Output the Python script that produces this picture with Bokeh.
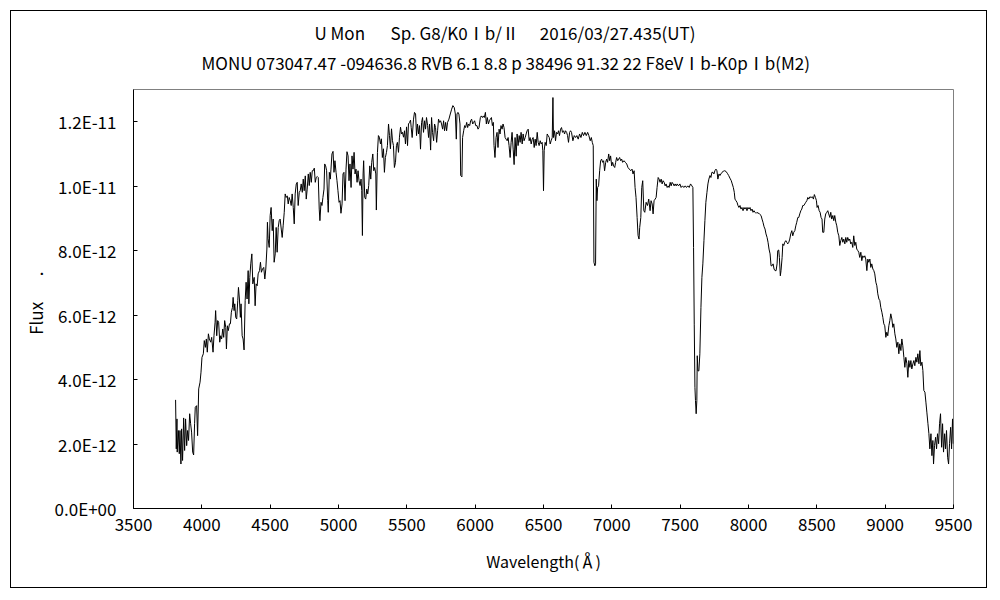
from bokeh.plotting import figure
from bokeh.models import FixedTicker, Title, Range1d
from bokeh.embed import file_html
from bokeh.resources import INLINE

FONT = "Noto Sans CJK JP"

wavelength = [
    3808, 3813, 3818, 3820, 3828, 3835, 3840, 3847, 3852, 3859, 3867, 3874, 3881, 3889, 3896, 3903,
    3911, 3918, 3925, 3933, 3940, 3947, 3952, 3962, 3969, 3977, 3987, 3994, 4001, 4011, 4018, 4026,
    4033, 4040, 4048, 4055, 4065, 4072, 4082, 4089, 4097, 4101, 4109, 4116, 4123, 4131, 4138, 4145,
    4153, 4160, 4167, 4175, 4180, 4187, 4194, 4202, 4209, 4216, 4224, 4229, 4236, 4241, 4248, 4255,
    4263, 4268, 4275, 4282, 4287, 4295, 4302, 4309, 4317, 4324, 4331, 4339, 4344, 4351, 4358, 4366,
    4373, 4383, 4390, 4397, 4405, 4412, 4422, 4429, 4436, 4444, 4453, 4461, 4468, 4476, 4480, 4485,
    4493, 4500, 4507, 4515, 4522, 4529, 4537, 4544, 4551, 4559, 4566, 4573, 4581, 4588, 4595, 4603,
    4610, 4617, 4625, 4632, 4639, 4647, 4654, 4661, 4669, 4676, 4683, 4691, 4698, 4705, 4713, 4720,
    4727, 4735, 4742, 4749, 4757, 4764, 4771, 4779, 4786, 4793, 4801, 4808, 4815, 4823, 4830, 4837,
    4845, 4852, 4859, 4864, 4872, 4879, 4886, 4894, 4899, 4906, 4913, 4921, 4925, 4933, 4940, 4945,
    4952, 4960, 4967, 4974, 4982, 4989, 4996, 5004, 5011, 5018, 5026, 5033, 5040, 5048, 5055, 5062,
    5070, 5077, 5084, 5092, 5099, 5106, 5114, 5121, 5128, 5136, 5143, 5150, 5158, 5165, 5170, 5175,
    5180, 5184, 5192, 5199, 5207, 5214, 5221, 5229, 5236, 5243, 5251, 5258, 5265, 5273, 5277, 5285,
    5292, 5299, 5307, 5314, 5321, 5329, 5336, 5343, 5351, 5358, 5366, 5373, 5380, 5388, 5395, 5402,
    5409, 5417, 5424, 5431, 5439, 5446, 5454, 5461, 5468, 5476, 5483, 5490, 5498, 5505, 5512, 5520,
    5527, 5532, 5539, 5549, 5556, 5564, 5571, 5578, 5586, 5593, 5600, 5608, 5615, 5622, 5630, 5637,
    5644, 5652, 5659, 5666, 5674, 5681, 5688, 5696, 5703, 5710, 5718, 5725, 5732, 5740, 5747, 5754,
    5762, 5769, 5776, 5784, 5791, 5798, 5808, 5818, 5828, 5837, 5847, 5855, 5862, 5867, 5874, 5881,
    5889, 5894, 5903, 5908, 5916, 5923, 5930, 5938, 5945, 5952, 5960, 5967, 5974, 5982, 5989, 5996,
    6004, 6013, 6021, 6028, 6038, 6045, 6053, 6060, 6067, 6075, 6082, 6089, 6097, 6104, 6111, 6119,
    6126, 6133, 6138, 6145, 6153, 6160, 6167, 6175, 6182, 6189, 6197, 6204, 6211, 6219, 6226, 6234,
    6241, 6248, 6256, 6263, 6270, 6278, 6285, 6292, 6300, 6307, 6314, 6322, 6329, 6336, 6344, 6351,
    6358, 6366, 6373, 6380, 6388, 6395, 6402, 6410, 6417, 6424, 6432, 6439, 6446, 6454, 6461, 6468,
    6476, 6483, 6490, 6495, 6500, 6505, 6512, 6520, 6527, 6534, 6542, 6549, 6556, 6564, 6569, 6573,
    6581, 6588, 6595, 6603, 6610, 6617, 6625, 6632, 6639, 6647, 6654, 6661, 6669, 6676, 6683, 6691,
    6698, 6705, 6715, 6725, 6735, 6744, 6754, 6764, 6774, 6784, 6793, 6803, 6813, 6823, 6832, 6842,
    6850, 6857, 6864, 6869, 6876, 6881, 6886, 6891, 6896, 6903, 6911, 6918, 6925, 6933, 6940, 6947,
    6955, 6962, 6969, 6977, 6984, 6991, 6999, 7006, 7013, 7021, 7028, 7035, 7043, 7050, 7057, 7065,
    7072, 7079, 7089, 7099, 7109, 7118, 7128, 7138, 7148, 7155, 7163, 7170, 7177, 7185, 7192, 7199,
    7204, 7212, 7219, 7226, 7234, 7241, 7251, 7261, 7270, 7280, 7287, 7295, 7302, 7309, 7317, 7324,
    7331, 7339, 7346, 7353, 7361, 7368, 7375, 7383, 7390, 7397, 7405, 7412, 7419, 7427, 7434, 7441,
    7449, 7456, 7463, 7471, 7478, 7488, 7498, 7507, 7517, 7527, 7537, 7546, 7556, 7566, 7576, 7586,
    7593, 7598, 7603, 7608, 7612, 7617, 7622, 7625, 7630, 7637, 7644, 7652, 7659, 7666, 7674, 7681,
    7688, 7696, 7703, 7710, 7718, 7725, 7732, 7740, 7747, 7754, 7762, 7769, 7776, 7784, 7791, 7798,
    7806, 7815, 7825, 7835, 7845, 7855, 7864, 7874, 7881, 7889, 7896, 7901, 7908, 7916, 7923, 7930,
    7938, 7945, 7952, 7960, 7967, 7974, 7982, 7989, 7996, 8004, 8011, 8018, 8026, 8033, 8040, 8048,
    8055, 8062, 8070, 8077, 8084, 8092, 8099, 8106, 8114, 8121, 8128, 8136, 8143, 8150, 8158, 8165,
    8172, 8180, 8187, 8194, 8202, 8209, 8214, 8221, 8226, 8233, 8238, 8246, 8251, 8258, 8265, 8273,
    8280, 8287, 8295, 8302, 8309, 8317, 8324, 8331, 8339, 8346, 8353, 8361, 8368, 8375, 8383, 8390,
    8397, 8405, 8412, 8419, 8427, 8434, 8441, 8449, 8458, 8468, 8475, 8482, 8490, 8497, 8502, 8509,
    8517, 8524, 8531, 8538, 8543, 8551, 8558, 8565, 8573, 8580, 8587, 8595, 8602, 8609, 8617, 8624,
    8631, 8639, 8646, 8653, 8661, 8668, 8675, 8683, 8690, 8697, 8705, 8712, 8719, 8726, 8734, 8741,
    8748, 8756, 8763, 8770, 8778, 8785, 8792, 8800, 8807, 8814, 8822, 8829, 8836, 8844, 8851, 8858,
    8866, 8873, 8880, 8888, 8895, 8902, 8910, 8917, 8924, 8932, 8939, 8946, 8954, 8961, 8968, 8976,
    8983, 8990, 8997, 9005, 9012, 9019, 9027, 9034, 9041, 9049, 9056, 9063, 9071, 9078, 9085, 9093,
    9100, 9107, 9115, 9122, 9129, 9137, 9144, 9151, 9159, 9166, 9173, 9181, 9188, 9195, 9203, 9210,
    9217, 9225, 9232, 9239, 9247, 9254, 9261, 9269, 9276, 9283, 9291, 9298, 9305, 9313, 9320, 9327,
    9335, 9342, 9349, 9354, 9361, 9369, 9376, 9383, 9391, 9398, 9405, 9413, 9420, 9427, 9435, 9442,
    9449, 9457, 9464, 9471, 9479, 9486, 9493, 9498,
]

# flux in units of 1e-12
flux_e12 = [
    3.37, 1.85, 2.78, 1.75, 2.42, 1.70, 2.42, 1.38, 2.47, 1.49, 2.81, 1.80, 2.78, 1.95, 2.42, 2.11,
    2.94, 2.63, 2.37, 1.75, 1.66, 2.63, 3.14, 3.19, 2.26, 3.71, 3.92, 4.23, 4.69, 4.80, 5.21, 5.00,
    5.26, 4.85, 5.42, 5.26, 5.16, 5.31, 4.85, 5.36, 5.78, 6.14, 5.36, 5.83, 5.78, 5.16, 5.36, 5.26,
    5.57, 5.31, 5.83, 5.62, 4.95, 5.67, 5.52, 5.73, 5.73, 6.09, 6.24, 6.55, 6.14, 6.35, 5.93, 5.88,
    6.45, 6.86, 6.50, 5.93, 6.35, 5.36, 5.26, 4.92, 6.45, 7.02, 6.50, 7.38, 6.35, 7.17, 7.59, 7.90,
    6.97, 7.17, 6.29, 6.97, 6.91, 7.28, 7.38, 7.64, 7.33, 7.43, 7.48, 7.12, 7.43, 8.05, 8.88, 8.37,
    8.10, 9.09, 9.34, 8.62, 8.98, 7.64, 7.90, 8.72, 7.95, 8.72, 8.93, 8.98, 8.67, 8.41, 8.77, 9.19,
    9.76, 9.65, 9.70, 9.45, 9.65, 9.55, 9.40, 9.76, 9.34, 8.83, 9.76, 10.07, 10.12, 9.40, 9.81, 9.86,
    10.07, 9.81, 10.22, 9.86, 10.32, 9.60, 9.91, 10.38, 10.02, 10.43, 10.12, 10.48, 10.48, 10.56, 10.12, 10.27,
    10.30, 10.27, 9.29, 8.93, 9.50, 9.40, 9.65, 9.91, 10.69, 10.63, 10.48, 9.55, 9.19, 10.43, 10.22, 10.53,
    11.00, 11.08, 10.43, 10.79, 10.43, 10.17, 9.86, 9.50, 9.55, 9.16, 9.45, 10.38, 10.43, 9.55, 10.53, 11.07,
    10.94, 10.17, 10.69, 9.96, 10.94, 10.53, 11.05, 10.38, 10.53, 10.12, 10.48, 10.17, 10.02, 10.22, 9.86, 8.47,
    10.38, 10.79, 9.65, 9.60, 9.91, 9.76, 10.02, 10.63, 10.22, 10.74, 11.00, 10.48, 10.58, 10.38, 9.26, 11.05,
    11.57, 11.52, 11.31, 11.47, 10.89, 11.16, 10.43, 10.89, 11.05, 11.26, 11.93, 11.57, 11.16, 11.78, 11.41, 11.26,
    10.58, 10.74, 11.26, 11.36, 11.05, 11.52, 11.83, 11.62, 11.67, 11.52, 11.72, 11.31, 11.84, 11.26, 11.93, 11.98,
    12.05, 11.82, 11.51, 12.08, 12.29, 12.24, 11.57, 11.93, 11.62, 11.88, 11.15, 11.98, 12.13, 11.67, 12.03, 11.77,
    12.13, 11.88, 11.51, 11.93, 11.12, 12.13, 11.67, 11.41, 11.93, 11.82, 11.36, 11.72, 12.08, 11.98, 12.03, 11.93,
    11.77, 12.03, 11.72, 11.98, 11.72, 11.98, 12.08, 12.24, 12.39, 12.50, 12.44, 12.24, 11.46, 12.24, 12.29, 12.24,
    11.93, 10.33, 10.29, 11.51, 11.72, 11.88, 11.82, 11.98, 11.82, 11.93, 11.88, 12.03, 12.08, 11.93, 11.98, 12.03,
    11.88, 11.88, 11.77, 11.82, 12.13, 12.18, 12.13, 12.18, 12.13, 12.29, 11.93, 12.13, 11.93, 12.03, 12.08, 12.13,
    11.88, 11.98, 11.26, 10.89, 11.51, 11.67, 11.20, 11.77, 11.62, 11.88, 11.77, 11.93, 11.82, 11.51, 11.46, 11.41,
    11.51, 11.26, 10.89, 11.36, 11.67, 11.15, 10.67, 11.51, 10.93, 11.62, 11.26, 11.57, 11.36, 11.67, 11.31, 11.62,
    11.41, 11.51, 11.62, 11.72, 11.77, 11.41, 11.51, 11.31, 11.46, 11.51, 11.20, 11.46, 11.26, 11.67, 11.36, 11.26,
    11.41, 11.31, 11.36, 11.10, 9.86, 11.10, 11.36, 11.26, 11.62, 11.57, 11.51, 11.31, 11.41, 11.51, 12.75, 11.51,
    11.72, 11.41, 11.67, 11.62, 11.72, 11.57, 11.77, 11.82, 11.67, 11.72, 11.62, 11.72, 11.67, 11.57, 11.36, 11.67,
    11.72, 11.67, 11.41, 11.57, 11.51, 11.57, 11.46, 11.62, 11.51, 11.67, 11.57, 11.67, 11.57, 11.67, 11.57, 11.41,
    11.51, 11.36, 11.26, 7.64, 7.53, 7.59, 10.22, 9.55, 9.96, 10.01, 10.48, 10.79, 10.84, 10.74, 10.79, 10.48,
    10.74, 10.84, 10.74, 11.00, 10.79, 10.94, 10.63, 10.74, 10.63, 10.58, 10.74, 10.89, 10.79, 10.84, 10.89, 10.79,
    10.84, 10.74, 10.79, 10.74, 10.69, 10.58, 10.53, 10.48, 10.53, 10.38, 10.48, 9.96, 9.65, 9.03, 8.47, 8.36,
    8.72, 9.03, 9.96, 10.17, 9.24, 9.19, 9.50, 9.40, 9.60, 9.24, 9.55, 9.45, 9.14, 9.55, 9.60, 9.65,
    9.96, 10.27, 10.22, 10.12, 10.22, 10.07, 10.17, 10.12, 10.01, 10.07, 9.96, 10.01, 9.96, 10.12, 10.01, 10.12,
    10.07, 10.01, 10.07, 10.01, 10.07, 10.01, 10.07, 9.96, 10.01, 9.96, 10.01, 9.96, 10.01, 9.96, 10.07, 10.01,
    9.96, 8.10, 5.72, 3.76, 3.35, 2.94, 3.35, 4.74, 4.27, 4.27, 4.80, 6.24, 7.17, 7.59, 8.31, 8.93,
    9.50, 9.81, 10.07, 10.22, 10.33, 10.27, 10.43, 10.43, 10.38, 10.48, 10.53, 10.48, 10.22, 10.38, 10.33, 10.38,
    10.43, 10.46, 10.48, 10.46, 10.40, 10.33, 10.25, 10.17, 10.07, 9.96, 9.81, 9.60, 9.55, 9.50, 9.40, 9.34,
    9.40, 9.29, 9.34, 9.24, 9.34, 9.29, 9.34, 9.24, 9.34, 9.29, 9.34, 9.24, 9.29, 9.19, 9.24, 9.19,
    9.16, 9.19, 9.16, 9.16, 9.12, 9.09, 8.98, 8.88, 8.74, 8.67, 8.52, 8.41, 8.26, 8.05, 7.90, 7.53,
    7.53, 7.59, 7.43, 7.38, 7.38, 7.59, 8.00, 8.02, 7.79, 7.22, 7.38, 7.79, 8.21, 8.16, 8.26, 8.31,
    8.26, 8.21, 8.26, 8.36, 8.52, 8.62, 8.46, 8.57, 8.62, 8.77, 8.88, 9.03, 9.03, 9.14, 9.24, 9.29,
    9.40, 9.40, 9.45, 9.50, 9.55, 9.65, 9.60, 9.67, 9.65, 9.67, 9.60, 9.74, 9.65, 9.55, 9.34, 9.40,
    9.24, 9.19, 9.03, 8.98, 8.57, 8.57, 8.98, 9.14, 9.19, 9.24, 9.14, 9.03, 9.19, 8.98, 9.09, 8.93,
    9.09, 8.88, 8.77, 8.57, 8.46, 8.16, 8.31, 8.41, 8.26, 8.36, 8.21, 8.41, 8.26, 8.41, 8.31, 8.36,
    8.21, 8.26, 8.10, 8.46, 8.16, 8.26, 8.05, 8.00, 7.95, 7.79, 7.95, 7.69, 7.84, 7.79, 7.84, 7.74,
    7.38, 7.74, 7.64, 7.74, 7.48, 7.59, 7.43, 7.38, 7.28, 7.02, 6.91, 6.66, 6.50, 6.45, 6.24, 6.09,
    5.93, 5.73, 5.67, 5.31, 5.47, 5.36, 5.67, 5.83, 6.04, 5.88, 5.62, 5.73, 5.42, 5.26, 5.00, 5.16,
    4.80, 5.11, 4.90, 5.26, 5.05, 4.69, 4.38, 4.69, 4.49, 4.07, 4.59, 4.38, 4.59, 4.33, 4.49, 4.59,
    4.43, 4.69, 4.54, 4.80, 4.49, 4.90, 4.43, 4.54, 4.28, 3.66, 3.61, 3.30, 2.99, 2.63, 2.32, 1.85,
    2.32, 1.64, 2.11, 1.38, 1.95, 2.21, 1.85, 2.32, 2.01, 2.63, 2.94, 1.90, 2.63, 1.75, 2.32, 1.85,
    2.42, 1.59, 1.38, 2.01, 2.52, 1.85, 2.78, 2.01,
]

x_ticks = [3500, 4000, 4500, 5000, 5500, 6000, 6500, 7000, 7500, 8000, 8500, 9000, 9500]
y_ticks = [0, 2, 4, 6, 8, 10, 12]
y_tick_labels = ["0.0E+00", "2.0E-12", "4.0E-12", "6.0E-12", "8.0E-12", "1.0E-11", "1.2E-11"]

title_line1 = "U Mon\u3000\u2002Sp. G8/K0\u2160b/\u2161\u3000 2016/03/27.435(UT)"
title_line2 = "MONU 073047.47 -094636.8 RVB 6.1 8.8 p 38496 91.32 22 F8eV\u2160b-K0p\u2160b(M2)"
x_label = "Wavelength(\u212b)"
y_label = "Flux\u3000\u2002.\u2002"

p = figure(width=977, height=578, x_range=Range1d(3500, 9500), y_range=Range1d(0, 13),
           output_backend="svg", toolbar_location=None,
           min_border_left=122, min_border_right=35, min_border_top=78, min_border_bottom=81)
p.margin = (10, 0, 0, 10)
p.styles = {"border": "1px solid black"}
p.background_fill_color = "white"
p.border_fill_color = "white"
p.outline_line_color = "#808080"
p.grid.visible = False

p.line(wavelength, flux_e12, line_color="black", line_width=1)

for ax in (p.xaxis[0], p.yaxis[0]):
    ax.axis_line_color = "black"
    ax.major_tick_line_color = "black"
    ax.major_tick_in = 4
    ax.major_tick_out = 0
    ax.minor_tick_line_color = None
    ax.major_label_text_font = FONT
    ax.major_label_text_font_size = "17px"
    ax.major_label_text_color = "black"
    ax.axis_label_text_font = FONT
    ax.axis_label_text_font_style = "normal"
    ax.axis_label_text_color = "black"

p.xaxis.axis_label_text_font_size = "16px"
p.yaxis.axis_label_text_font_size = "17px"
p.xaxis.ticker = FixedTicker(ticks=x_ticks)
p.yaxis.ticker = FixedTicker(ticks=y_ticks)
p.yaxis.major_label_overrides = {t: s for t, s in zip(y_ticks, y_tick_labels)}
p.xaxis.major_label_standoff = 9
p.yaxis.major_label_standoff = 17
p.xaxis.axis_label = x_label
p.yaxis.axis_label = y_label
p.xaxis.axis_label_standoff = 15
p.yaxis.axis_label_standoff = 4

t2 = Title(text=title_line2, align="left", text_font=FONT, text_font_size="17px",
           text_font_style="normal", text_color="black", offset=68, standoff=30)
t1 = Title(text=title_line1, align="left", text_font=FONT, text_font_size="17px",
           text_font_style="normal", text_color="black", offset=181, standoff=-24)
p.title = None
p.add_layout(t2, "above")
p.add_layout(t1, "above")

open("out.html", "w").write(file_html(p, INLINE))
